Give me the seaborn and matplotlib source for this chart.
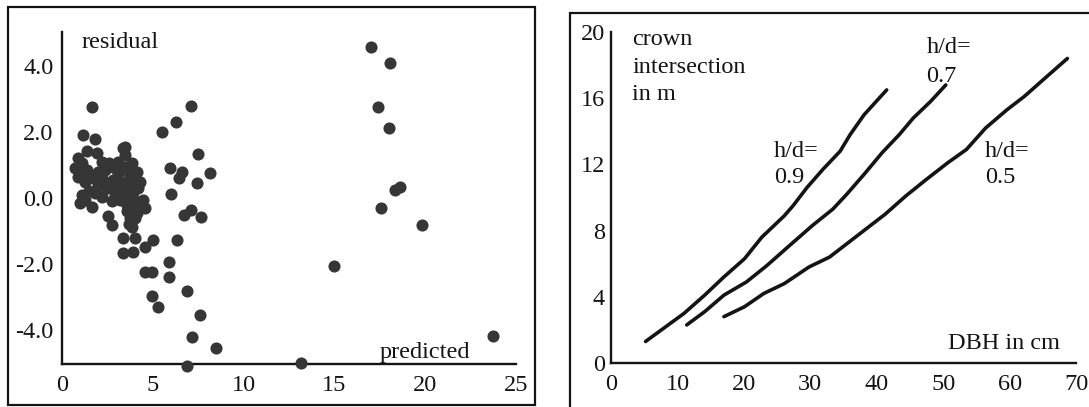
import numpy as np
import pandas as pd
import matplotlib
matplotlib.use("Agg")
import matplotlib.pyplot as plt
import seaborn as sns
from matplotlib.patches import Rectangle

# ---------------------------------------------------------------- data
# left panel: residual vs predicted
predicted = [1.65, 1.18, 1.79, 3.47, 7.11, 6.25, 5.48, 7.50, 8.16, 5.96,
             6.63, 6.44, 7.46, 5.99, 7.11, 6.73, 7.68, 6.34, 5.02, 5.87,
             5.91, 4.55, 4.98, 4.97, 5.29, 6.88, 7.59, 7.17, 8.49, 6.86,
             13.14, 15.00, 17.03, 18.06, 17.39, 17.98, 18.31, 18.63, 17.54, 19.84,
             23.76,
             # dense cluster
             0.90, 0.72, 0.90, 1.27, 1.36, 1.40, 1.91, 2.18, 2.00, 1.73,
             2.00, 2.28, 1.82, 1.27, 0.99, 1.63, 2.18, 2.55, 2.92, 2.83,
             3.10, 3.10, 3.84, 4.11, 4.30, 3.65, 3.38, 3.93, 3.19, 3.56,
             4.11, 4.48, 4.57, 4.11, 3.74, 3.84, 2.73, 3.38, 3.47, 2.55,
             2.73, 3.38, 4.02, 3.38, 3.93, 4.57,
             1.10, 1.10, 1.55, 1.50, 1.10, 2.35, 2.60, 2.80, 3.00, 3.30,
             3.50, 3.70, 4.00, 4.20, 3.80, 2.90, 3.30, 3.60, 3.90, 4.30,
             3.90, 3.60, 4.00, 3.70, 2.40, 2.20]
residual = [2.75, 1.91, 1.78, 1.55, 2.79, 2.31, 2.01, 1.33, 0.75, 0.90,
            0.80, 0.60, 0.44, 0.12, -0.36, -0.52, -0.57, -1.27, -1.26, -1.93,
            -2.40, -2.23, -2.25, -2.97, -3.29, -2.81, -3.55, -4.20, -4.56, -5.09,
            -5.00, -2.05, 4.57, 4.08, 2.77, 2.11, 0.24, 0.34, -0.31, -0.82,
            -4.18,
            1.20, 0.90, 0.65, 0.49, 0.85, 1.42, 1.35, 1.10, 0.80, 0.60,
            0.39, 0.52, 0.14, -0.06, -0.16, -0.26, 0.04, 0.29, 0.49, 0.95,
            1.10, 0.75, 1.05, 0.80, 0.49, 0.55, 0.29, 0.19, -0.06, -0.21,
            -0.11, -0.06, -0.31, -0.46, -0.62, -0.87, -0.09, 1.50, 1.30, -0.56,
            -0.82, -1.22, -1.22, -1.68, -1.63, -1.47,
            1.05, 0.70, 0.70, 0.20, 0.10, 0.85, 1.05, 0.55, 0.30, 0.45,
            0.95, 0.80, 0.60, 0.30, 0.35, 0.05, 0.10, 0.05, 0.00, -0.20,
            -0.30, -0.40, -0.60, -0.80, 0.30, 0.60]

# right panel: crown intersection vs DBH for three h/d ratios
dbh_09 = [5.2, 11.0, 14.1, 17.0, 20.1, 22.7, 26.1, 27.4, 29.5, 31.9, 34.5, 36.0, 38.1, 41.5]
crown_09 = [1.3, 3.0, 4.1, 5.2, 6.3, 7.6, 8.9, 9.5, 10.6, 11.7, 12.8, 13.8, 15.0, 16.5]
dbh_07 = [11.4, 14.1, 17.0, 20.4, 23.5, 26.6, 30.3, 33.4, 35.5, 38.1, 40.8, 43.4, 45.5, 48.1, 50.4]
crown_07 = [2.3, 3.1, 4.1, 4.9, 5.9, 7.0, 8.3, 9.3, 10.2, 11.4, 12.7, 13.8, 14.8, 15.8, 16.8]
dbh_05 = [17.0, 20.1, 23.0, 26.1, 29.8, 32.9, 37.1, 41.3, 44.4, 47.5, 50.7, 53.5, 56.4, 59.6, 62.2, 65.3, 68.7]
crown_05 = [2.8, 3.4, 4.2, 4.8, 5.8, 6.4, 7.7, 9.0, 10.1, 11.1, 12.1, 12.9, 14.2, 15.3, 16.1, 17.2, 18.4]

left_yticks = [-4, -2, 0, 2, 4]
left_yticklabels = ["-4.0", "-2.0", "0.0", "2.0", "4.0"]
left_xticks = [0, 5, 10, 15, 20, 25]
right_xticks = [0, 10, 20, 30, 40, 50, 60, 70]
right_yticks = [0, 4, 8, 12, 16, 20]

# ---------------------------------------------------------------- style
sns.set_style("white")
plt.rcParams['font.family'] = ['Liberation Serif', 'DejaVu Serif']
plt.rcParams['axes.unicode_minus'] = False
ink = "#141414"
fs = 17.5

W, H = 1089, 407
fig = plt.figure(figsize=(W / 100, H / 100), dpi=100)


def style_axis(ax, ypad):
    for s in ["top", "right"]:
        ax.spines[s].set_visible(False)
    for s in ["left", "bottom"]:
        ax.spines[s].set_linewidth(1.7)
        ax.spines[s].set_color(ink)
    ax.tick_params(which="both", direction="inout", length=8, width=1.4,
                   color=ink, labelcolor=ink, labelsize=fs)
    ax.tick_params(axis="x", which="both", pad=4)
    ax.tick_params(axis="y", which="both", pad=ypad)
    ax.set_xlabel("")
    ax.set_ylabel("")
    ax.patch.set_alpha(0)


# ---------------------------------------------------------------- left panel
ax1 = fig.add_axes([62 / W, (H - 364) / H, 454 / W, 332 / H])
df_res = pd.DataFrame({"predicted": predicted, "residual": residual})
sns.scatterplot(data=df_res, x="predicted", y="residual", ax=ax1,
                color="#363636", s=76, marker="o", linewidth=0, clip_on=False, zorder=3)
ax1.set_xlim(0, 25)
ax1.set_ylim(-5.03, 5.03)
ax1.set_xticks(left_xticks)
ax1.set_xticklabels([str(t) for t in left_xticks])
ax1.set_yticks(left_yticks)
ax1.set_yticklabels(left_yticklabels)
ax1.set_yticks([-3, -1, 1, 3, 5.03], minor=True)
style_axis(ax1, 2)
ax1.text(1.08, 4.55, "residual", fontsize=fs, color=ink, ha="left", va="baseline")
ax1.text(17.5, -4.85, "predicted", fontsize=fs, color=ink, ha="left", va="baseline")

# ---------------------------------------------------------------- right panel
ax2 = fig.add_axes([611 / W, (H - 363) / H, 465 / W, 331 / H])
df_crown = pd.concat([
    pd.DataFrame({"dbh": dbh_09, "crown": crown_09, "hd": "0.9"}),
    pd.DataFrame({"dbh": dbh_07, "crown": crown_07, "hd": "0.7"}),
    pd.DataFrame({"dbh": dbh_05, "crown": crown_05, "hd": "0.5"}),
])
sns.lineplot(data=df_crown, x="dbh", y="crown", units="hd", estimator=None,
             sort=False, color=ink, linewidth=2.6, ax=ax2)
ax2.set_xlim(0, 70)
ax2.set_ylim(0, 20)
ax2.set_xticks(right_xticks)
ax2.set_xticklabels([str(t) for t in right_xticks])
ax2.set_yticks(right_yticks)
ax2.set_yticklabels([str(t) for t in right_yticks])
ax2.set_yticks([2, 6, 10, 14, 18], minor=True)
style_axis(ax2, 0.5)

for txt, yy in [("crown", 19.21), ("intersection", 17.52), ("in m", 15.89)]:
    ax2.text(3.2, yy, txt, fontsize=fs, color=ink, ha="left", va="baseline")
for xx, y1, y2, val in [(24.5, 12.45, 10.88, "0.9"), (47.5, 18.73, 16.98, "0.7"),
                        (56.3, 12.45, 10.88, "0.5")]:
    ax2.text(xx, y1, "h/d=", fontsize=fs, color=ink, ha="left", va="baseline")
    ax2.text(xx, y2, val, fontsize=fs, color=ink, ha="left", va="baseline")
ax2.text(50.7, 0.85, "DBH in cm", fontsize=fs, color=ink, ha="left", va="baseline")

# ---------------------------------------------------------------- frames
fig.add_artist(Rectangle((8 / W, (H - 405) / H), (535 - 8) / W, (405 - 7) / H,
                         transform=fig.transFigure, fill=False, lw=1.6, ec=ink))
fig.add_artist(Rectangle((570 / W, (H - 420) / H), 540 / W, (420 - 13) / H,
                         transform=fig.transFigure, fill=False, lw=1.6, ec=ink))

fig.savefig("out.png", dpi=100)
